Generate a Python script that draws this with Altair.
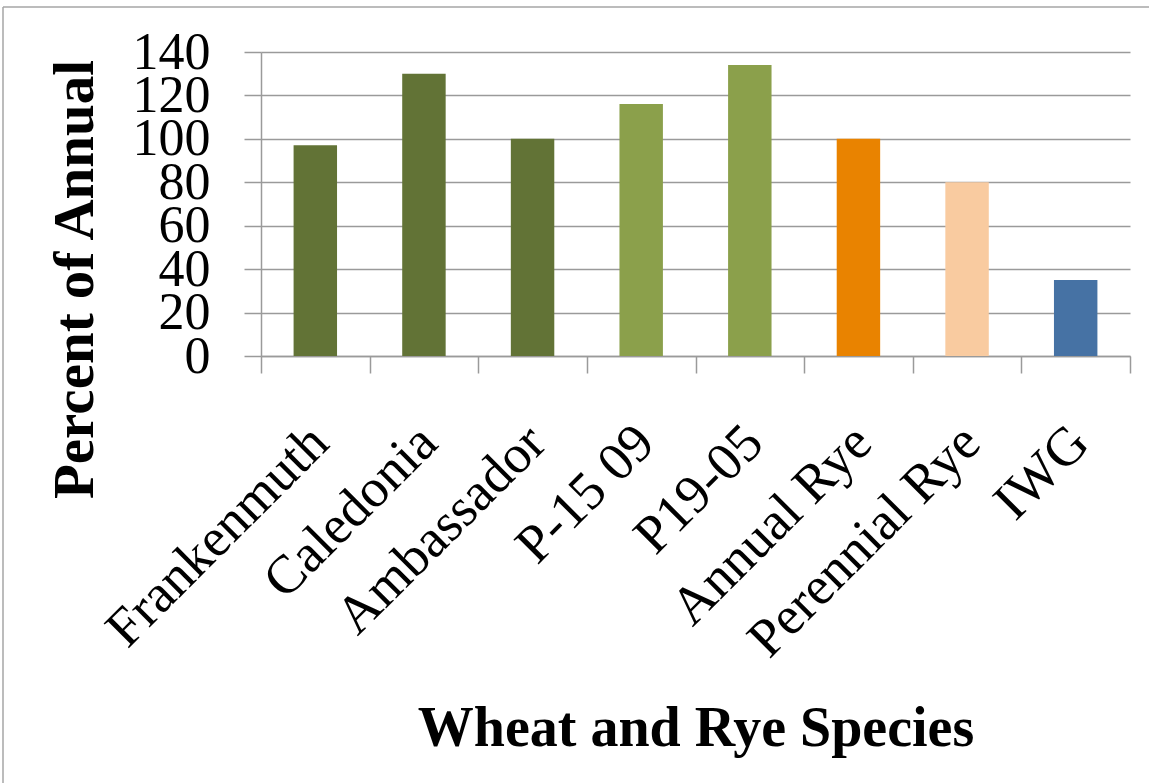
import altair as alt
import pandas as pd

categories = ["Frankenmuth", "Caledonia", "Ambassador", "P-15 09", "P19-05",
              "Annual Rye", "Perennial Rye", "IWG"]
values = [97, 130, 100, 116, 134, 100, 80, 35]
bar_colors = ["#627336", "#627336", "#627336", "#8BA04B", "#8BA04B",
              "#E98300", "#F9CBA0", "#4672A4"]
y_ticks = [0, 20, 40, 60, 80, 100, 120, 140]

df = pd.DataFrame({"species": categories, "pct": values, "color": bar_colors})

W, H = 869, 304
GRAY = "#9a9a9a"
FONT = "Liberation Serif"

bars = alt.Chart(df).mark_bar(width=alt.RelativeBandSize(0.4)).encode(
    x=alt.X(
        "species:N", sort=categories,
        scale=alt.Scale(paddingInner=0, paddingOuter=0),
        axis=alt.Axis(
            title="Wheat and Rye Species", labelAngle=-45,
            labelFont=FONT, labelFontSize=54, labelColor="black",
            labelPadding=42, labelOffset=-15, labelLimit=0,
            tickBand="extent", tickSize=17, tickColor=GRAY, tickWidth=1.5,
            domainColor=GRAY, domainWidth=1.5, grid=False,
            titleFont=FONT, titleFontSize=56, titleFontWeight="bold",
            titleColor="black", titleY=389, titleBaseline="alphabetic",
        ),
    ),
    y=alt.Y(
        "pct:Q",
        scale=alt.Scale(domain=[0, 140], nice=False),
        axis=alt.Axis(
            values=y_ticks, title="Percent of Annual",
            labelFont=FONT, labelFontSize=52, labelColor="black",
            labelPadding=34, labelOverlap=False,
            tickSize=17, tickColor=GRAY, tickWidth=1.5,
            domainColor=GRAY, domainWidth=1.5,
            grid=True, gridColor=GRAY, gridWidth=1.5,
            titleFont=FONT, titleFontSize=57, titleFontWeight="bold",
            titleColor="black", titleX=-169, titleY=227,
            titleBaseline="alphabetic", titleAngle=270,
        ),
    ),
    color=alt.Color("color:N", scale=None),
)

frame = pd.DataFrame({"k": [0]})
top_border = alt.Chart(frame).mark_rule(color="#a6a6a6", strokeWidth=1.5).encode(
    x=alt.value(-258), x2=alt.value(888), y=alt.value(-45)
)
left_border = alt.Chart(frame).mark_rule(color="#a6a6a6", strokeWidth=1.5).encode(
    x=alt.value(-258), y=alt.value(-45), y2=alt.value(731)
)

chart = alt.layer(bars, top_border, left_border).properties(
    width=W, height=H,
    autosize=alt.AutoSizeParams(type="none"),
    padding={"left": 261, "top": 52, "right": 20, "bottom": 428},
    background="white",
).configure_view(strokeOpacity=0)

chart.save("out.html", embed_options={"renderer": "svg", "actions": False})
